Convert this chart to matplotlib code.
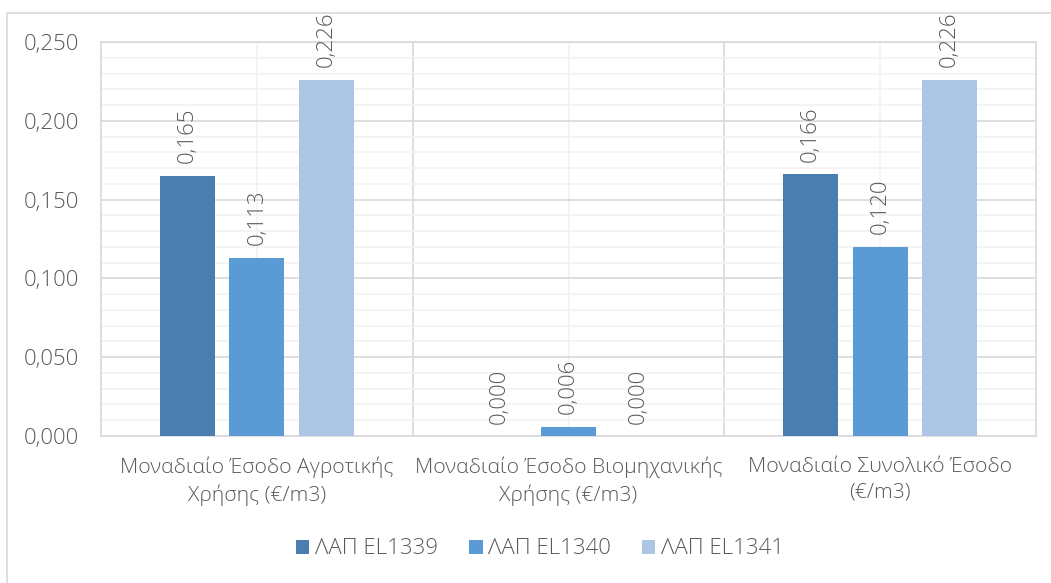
import matplotlib
matplotlib.use("Agg")
import matplotlib.pyplot as plt
from matplotlib.patches import Rectangle
from matplotlib.ticker import MultipleLocator, FuncFormatter
import numpy as np

categories = ["Μοναδιαίο Έσοδο Αγροτικής\nΧρήσης (€/m3)",
              "Μοναδιαίο Έσοδο Βιομηχανικής\nΧρήσης (€/m3)",
              "Μοναδιαίο Συνολικό Έσοδο\n(€/m3)"]
series_names = ["ΛΑΠ EL1339", "ΛΑΠ EL1340", "ΛΑΠ EL1341"]
values_1339 = [0.165, 0.000, 0.166]
values_1340 = [0.113, 0.006, 0.120]
values_1341 = [0.226, 0.000, 0.226]
colors = ["#4A7EB0", "#5B9BD5", "#ADC6E5"]

plt.rcParams['font.family'] = ['Open Sans', 'DejaVu Sans']
plt.rcParams['font.weight'] = 'light'
text_color = "#595959"

W, H = 1051, 583
fig = plt.figure(figsize=(W / 100, H / 100), dpi=100)
ax = fig.add_axes([101 / W, 1 - 436 / H, (1036 - 101) / W, (436 - 42) / H])

# outer border
fig.patches.append(Rectangle((7 / W, -0.05), 1.2, 1 - 13 / H + 0.05, transform=fig.transFigure,
                             fill=False, edgecolor="#D9D9D9", linewidth=1.2, zorder=0))

x = np.arange(len(categories))
offset = 0.223
width = 0.177
all_vals = [values_1339, values_1340, values_1341]
for i, (name, vals, c) in enumerate(zip(series_names, all_vals, colors)):
    bars = ax.bar(x + (i - 1) * offset, vals, width=width, color=c, label=name, zorder=3)
    for b, v in zip(bars, vals):
        ax.annotate(f"{v:.3f}".replace(".", ","), (b.get_x() + b.get_width() / 2, v),
                    xytext=(0, 9), textcoords="offset points", rotation=90,
                    ha="center", va="bottom", fontsize=16, color=text_color)

ax.set_xlim(-0.5, 2.5)
ax.set_ylim(0, 0.25)
ax.yaxis.set_major_locator(MultipleLocator(0.05))
ax.yaxis.set_minor_locator(MultipleLocator(0.01))
ax.yaxis.set_major_formatter(FuncFormatter(lambda v, p: f"{v:.3f}".replace(".", ",")))
ax.set_xticks(x)
ax.set_xticklabels(categories, fontsize=15.2, color=text_color, linespacing=1.4)
ax.set_xticks([0.5, 1.5], minor=True)
ax.tick_params(axis="x", which="both", length=0, pad=15)
ax.tick_params(axis="y", which="both", length=0, pad=16, labelsize=16, labelcolor=text_color)

# gridlines
ax.grid(axis="y", which="major", color="#D9D9D9", linewidth=1.2, zorder=1)
ax.grid(axis="y", which="minor", color="#F2F2F2", linewidth=1.2, zorder=0)
ax.grid(axis="x", which="minor", color="#D9D9D9", linewidth=1.2, zorder=1)
ax.grid(axis="x", which="major", color="#F2F2F2", linewidth=1.2, zorder=0)
ax.set_axisbelow(True)
for s in ax.spines.values():
    s.set_color("#D9D9D9")
    s.set_linewidth(1.2)

leg = fig.legend(loc="center", bbox_to_anchor=(540 / W, 1 - 549 / H), ncol=3, frameon=False,
                 fontsize=16, handlelength=0.6, handleheight=0.6, columnspacing=1.4,
                 handletextpad=0.25)
for t in leg.get_texts():
    t.set_color(text_color)

fig.savefig("out.png", dpi=100)
